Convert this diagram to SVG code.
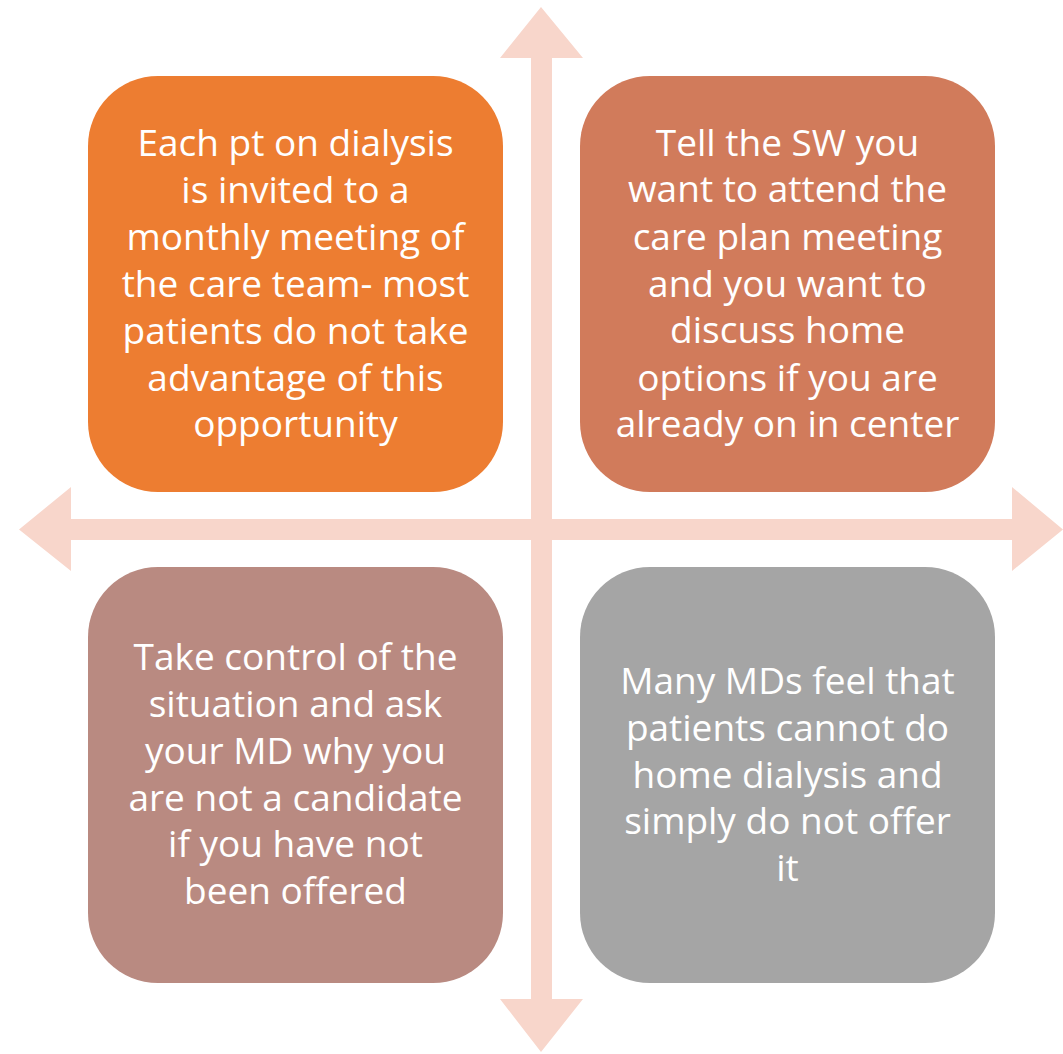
<svg xmlns="http://www.w3.org/2000/svg" width="1063" height="1054" viewBox="0 0 1063 1054">
<style>
.arrow{fill:#F8D6CB}
.box text{fill:#FFFFFF;font-family:"Open Sans","Liberation Sans",sans-serif;font-size:37px;text-anchor:middle}
</style>
<rect width="1063" height="1054" fill="#FFFFFF"/>
<g id="connectors">
<polygon class="arrow" points="541,7 583,58 552,58 552,999 583,999 541,1052 500,999 531,999 531,58 500,58"/>
<polygon class="arrow" points="19,529.5 71,487 71,519 1012,519 1012,487 1063,529.5 1012,571 1012,540 71,540 71,571"/>
</g>
<g id="node-tl" class="box">
<rect x="88" y="76" width="415" height="416" rx="70" fill="#ED7D31"/>
<text x="295.5" y="156">Each pt on dialysis</text>
<text x="295.5" y="203">is invited to a</text>
<text x="295.5" y="250">monthly meeting of</text>
<text x="295.5" y="297">the care team- most</text>
<text x="295.5" y="344">patients do not take</text>
<text x="295.5" y="391">advantage of this</text>
<text x="295.5" y="437">opportunity</text>
</g>
<g id="node-tr" class="box">
<rect x="580" y="76" width="415" height="416" rx="70" fill="#D17B5B"/>
<text x="787.5" y="156">Tell the SW you</text>
<text x="787.5" y="202">want to attend the</text>
<text x="787.5" y="250">care plan meeting</text>
<text x="787.5" y="297">and you want to</text>
<text x="787.5" y="343">discuss home</text>
<text x="787.5" y="391">options if you are</text>
<text x="787.5" y="437">already on in center</text>
</g>
<g id="node-bl" class="box">
<rect x="88" y="567" width="415" height="416" rx="70" fill="#B98A81"/>
<text x="295.5" y="670">Take control of the</text>
<text x="295.5" y="717">situation and ask</text>
<text x="295.5" y="764">your MD why you</text>
<text x="295.5" y="811">are not a candidate</text>
<text x="295.5" y="857">if you have not</text>
<text x="295.5" y="904">been offered</text>
</g>
<g id="node-br" class="box">
<rect x="580" y="567" width="415" height="416" rx="70" fill="#A5A5A5"/>
<text x="787.5" y="694">Many MDs feel that</text>
<text x="787.5" y="741">patients cannot do</text>
<text x="787.5" y="788">home dialysis and</text>
<text x="787.5" y="834">simply do not offer</text>
<text x="787.5" y="881">it</text>
</g>
</svg>
